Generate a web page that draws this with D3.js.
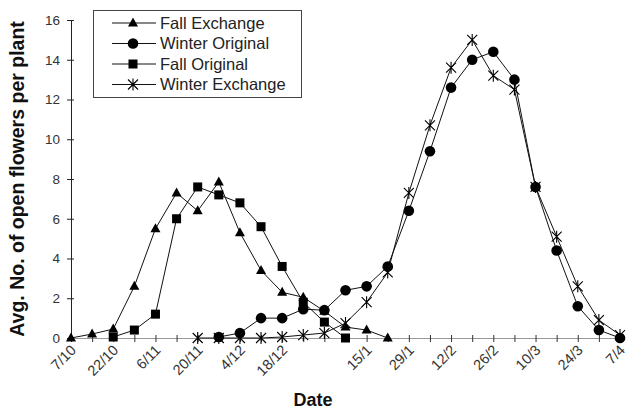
<!DOCTYPE html>
<html>
<head>
<meta charset="utf-8">
<script src="https://cdn.jsdelivr.net/npm/d3@7"></script>
<style>
  body { margin: 0; background: #fff; }
  svg { display: block; font-family: "Liberation Sans", Arial, sans-serif; }
</style>
</head>
<body>
<div id="chart"></div>
<script>
// one entry per week, blank where the week has no label
const weekLabels = ["7/10", "", "22/10", "", "6/11", "", "20/11", "", "4/12", "", "18/12", "", "",
    "", "15/1", "", "29/1", "", "12/2", "", "26/2", "", "10/3", "", "24/3", "", "7/4"];
const yTicks = [0, 2, 4, 6, 8, 10, 12, 14, 16];

const fallExchange = [0, 0.2, 0.45, 2.6, 5.5, 7.3, 6.4, 7.85, 5.3, 3.4, 2.3, 2.05, 1.35, 0.55, 0.4, 0,
    null, null, null, null, null, null, null, null, null, null, null];
const winterOriginal = [null, null, null, null, null, null, null, 0.05, 0.25, 1.0, 1.0, 1.45, 1.4, 2.4,
    2.6, 3.6, 6.4, 9.4, 12.6, 14.0, 14.4, 13.0, 7.6, 4.4, 1.6, 0.4, 0];
const fallOriginal = [null, null, 0.05, 0.4, 1.2, 6.0, 7.6, 7.2, 6.8, 5.6, 3.6, 1.8, 0.8, 0,
    null, null, null, null, null, null, null, null, null, null, null, null, null];
const winterExchange = [null, null, null, null, null, null, 0, 0, 0, 0, 0.05, 0.15, 0.25, 0.75,
    1.8, 3.3, 7.3, 10.7, 13.6, 15.0, 13.2, 12.5, 7.6, 5.1, 2.6, 0.9, 0.15];

const seriesNames = ["Fall Exchange", "Winter Original", "Fall Original", "Winter Exchange"];
const seriesValues = [fallExchange, winterOriginal, fallOriginal, winterExchange];
const seriesMarkers = ["triangle", "circle", "square", "star"];

const width = 630, height = 414;
const svg = d3.select("#chart").append("svg")
    .attr("width", width)
    .attr("height", height);

const x = d3.scaleLinear().domain([0, weekLabels.length - 1]).range([71, 620]);
const y = d3.scaleLinear().domain([0, 16]).range([338, 20]);

// axes
const yAxis = svg.append("g")
    .attr("transform", `translate(${x(0)},0)`)
    .call(d3.axisLeft(y).tickValues(yTicks).tickSizeInner(4).tickSizeOuter(0).tickPadding(7));
yAxis.select(".domain").attr("stroke", "#222");
yAxis.selectAll(".tick line").attr("x2", 3).attr("x1", -4).attr("stroke", "#222");
yAxis.selectAll(".tick text")
    .attr("font-size", 13.5)
    .attr("fill", "#333")
    .attr("font-family", "'Liberation Sans', Arial, sans-serif");

const xAxis = svg.append("g")
    .attr("transform", `translate(0,${y(0)})`)
    .call(d3.axisBottom(x).tickValues(d3.range(weekLabels.length)).tickSize(0).tickFormat(""));
xAxis.select(".domain").attr("stroke", "#999");
xAxis.selectAll(".tick line").attr("y1", -3).attr("y2", 4).attr("stroke", "#333");

svg.append("g").selectAll("text")
    .data(weekLabels.map((d, i) => ({ label: d, i })).filter(d => d.label !== ""))
    .join("text")
    .attr("transform", d => `translate(${x(d.i) + 6},${y(0) + 13}) rotate(-45)`)
    .attr("text-anchor", "end")
    .attr("font-size", 14.5)
    .attr("fill", "#333")
    .text(d => d.label);

// axis titles
svg.append("text")
    .attr("transform", `translate(24,${(y(0) + y(16)) / 2}) rotate(-90)`)
    .attr("text-anchor", "middle")
    .attr("font-size", 19.5)
    .attr("font-weight", "bold")
    .attr("fill", "#111")
    .text("Avg. No. of open flowers per plant");

svg.append("text")
    .attr("x", 313)
    .attr("y", 406)
    .attr("text-anchor", "middle")
    .attr("font-size", 18)
    .attr("font-weight", "bold")
    .attr("fill", "#111")
    .text("Date");

// markers
function drawMarker(g, type) {
    if (type === "triangle") {
        g.append("path").attr("d", "M0,-5.5L5,3.5L-5,3.5Z").attr("fill", "#000");
    } else if (type === "circle") {
        g.append("circle").attr("r", 5.3).attr("fill", "#000");
    } else if (type === "square") {
        g.append("rect").attr("x", -4.5).attr("y", -4.5).attr("width", 9).attr("height", 9).attr("fill", "#000");
    } else {
        g.append("path")
            .attr("d", "M-5,-5L5,5M-5,5L5,-5M0,-6L0,6")
            .attr("stroke", "#000")
            .attr("stroke-width", 1.1)
            .attr("fill", "none");
    }
}

const line = d3.line()
    .defined(d => d != null)
    .x((d, i) => x(i))
    .y(d => y(d));

seriesValues.forEach((vals, s) => {
    svg.append("path")
        .datum(vals)
        .attr("fill", "none")
        .attr("stroke", "#111")
        .attr("stroke-width", 1)
        .attr("d", line);

    vals.forEach((v, i) => {
        if (v == null) return;
        const g = svg.append("g").attr("transform", `translate(${x(i)},${y(v)})`);
        drawMarker(g, seriesMarkers[s]);
    });
});

// legend
const legend = svg.append("g");
legend.append("rect")
    .attr("x", 93.5).attr("y", 10.5)
    .attr("width", 208).attr("height", 87)
    .attr("fill", "#fff")
    .attr("stroke", "#444")
    .attr("stroke-width", 1);

seriesNames.forEach((name, s) => {
    const ly = 23 + s * 20.5;
    legend.append("line")
        .attr("x1", 112).attr("x2", 156)
        .attr("y1", ly).attr("y2", ly)
        .attr("stroke", "#111");
    drawMarker(legend.append("g").attr("transform", `translate(133,${ly})`), seriesMarkers[s]);
    legend.append("text")
        .attr("x", 160)
        .attr("y", ly)
        .attr("dy", "0.36em")
        .attr("font-size", 16.5)
        .attr("fill", "#222")
        .text(name);
});
</script>
</body>
</html>
